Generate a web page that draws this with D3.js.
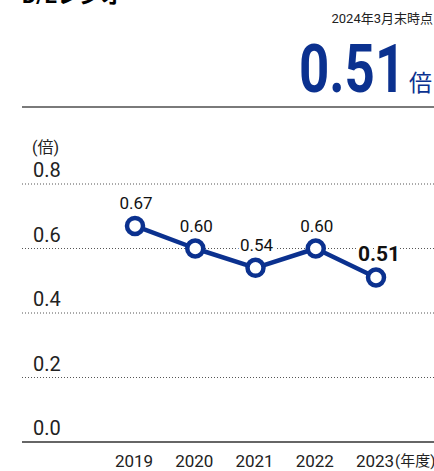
<!DOCTYPE html>
<html>
<head>
<meta charset="utf-8">
<script src="https://cdn.jsdelivr.net/npm/d3@7"></script>
<style>
  body { margin: 0; background: #fff; }
  text { font-family: Roboto, "Noto Sans CJK JP", sans-serif; }
</style>
</head>
<body>
<div id="chart"></div>
<script>
// data
const years = ["2019", "2020", "2021", "2022", "2023"];
const ratios = [0.67, 0.60, 0.54, 0.60, 0.51];
const yTicks = [0, 0.2, 0.4, 0.6, 0.8];

const width = 434, height = 471;
const navy = "#0b318f";

const svg = d3.select("#chart").append("svg")
  .attr("width", width)
  .attr("height", height);

// Header (title is cut off at the top in the original)
svg.append("text")
  .attr("x", 22).attr("y", 3)
  .style("font-size", "22px").style("font-weight", "700")
  .text("D/Eレシオ");

svg.append("text")
  .attr("x", 433).attr("y", 23)
  .attr("text-anchor", "end")
  .style("font-size", "13px").attr("fill", "#222")
  .text("2024年3月末時点");

svg.append("g")
  .attr("transform", "translate(299,92) scale(0.8,1)")
  .append("text")
  .style("font-size", "66px").style("font-weight", "700")
  .attr("fill", navy)
  .text("0.51");

svg.append("text")
  .attr("x", 409).attr("y", 91)
  .style("font-size", "23px")
  .attr("fill", navy)
  .text("倍");

svg.append("line")
  .attr("x1", 22).attr("x2", width)
  .attr("y1", 107).attr("y2", 107)
  .attr("stroke", "#7a7a7a").attr("stroke-width", 2);

// Scales
const x = d3.scalePoint().domain(years).range([135, 376]);
const y = d3.scaleLinear().domain([0, 0.8]).range([442, 184]);

// Grid
svg.selectAll(".grid")
  .data(yTicks.filter(d => d > 0))
  .enter().append("line")
  .attr("class", "grid")
  .attr("x1", 22).attr("x2", width)
  .attr("y1", d => y(d)).attr("y2", d => y(d))
  .attr("stroke", "#555").attr("stroke-width", 1)
  .attr("stroke-dasharray", "1,2");

svg.append("line")
  .attr("x1", 22).attr("x2", width)
  .attr("y1", y(0)).attr("y2", y(0))
  .attr("stroke", "#666").attr("stroke-width", 2);

// y tick labels
svg.selectAll(".ytick")
  .data(yTicks)
  .enter().append("text")
  .attr("class", "ytick")
  .attr("x", 33).attr("y", d => y(d) - 7)
  .style("font-size", "20px").attr("fill", "#222")
  .text(d => d3.format(".1f")(d));

svg.append("text")
  .attr("x", 32).attr("y", 153)
  .style("font-size", "16px").attr("fill", "#222")
  .text("(倍)");

// x labels
svg.selectAll(".xtick")
  .data(years)
  .enter().append("text")
  .attr("class", "xtick")
  .attr("x", d => x(d) - 1).attr("y", 467)
  .attr("text-anchor", "middle")
  .style("font-size", "17px").attr("fill", "#222")
  .text(d => d);

svg.append("text")
  .attr("x", 395).attr("y", 466)
  .style("font-size", "15px").attr("fill", "#222")
  .text("(年度)");

// Line
const line = d3.line()
  .x((d, i) => x(years[i]))
  .y(d => y(d));

svg.append("path")
  .datum(ratios)
  .attr("d", line)
  .attr("fill", "none")
  .attr("stroke", navy)
  .attr("stroke-width", 4.5)
  .attr("stroke-linejoin", "round");

svg.selectAll(".pt")
  .data(ratios)
  .enter().append("circle")
  .attr("class", "pt")
  .attr("cx", (d, i) => x(years[i]))
  .attr("cy", d => y(d))
  .attr("r", 8)
  .attr("fill", "#fff")
  .attr("stroke", navy)
  .attr("stroke-width", 4.5);

// Value labels
const last = ratios.length - 1;
svg.selectAll(".val")
  .data(ratios)
  .enter().append("text")
  .attr("class", "val")
  .attr("x", (d, i) => i === last ? x(years[i]) + 3 : x(years[i]) + 1)
  .attr("y", d => y(d) - 17)
  .attr("text-anchor", "middle")
  .style("font-size", (d, i) => i === last ? "21px" : "17px")
  .style("font-weight", (d, i) => i === last ? "700" : "400")
  .attr("fill", "#111")
  .attr("stroke", "#fff").attr("stroke-width", 5)
  .style("paint-order", "stroke")
  .text(d => d3.format(".2f")(d));
</script>
</body>
</html>
